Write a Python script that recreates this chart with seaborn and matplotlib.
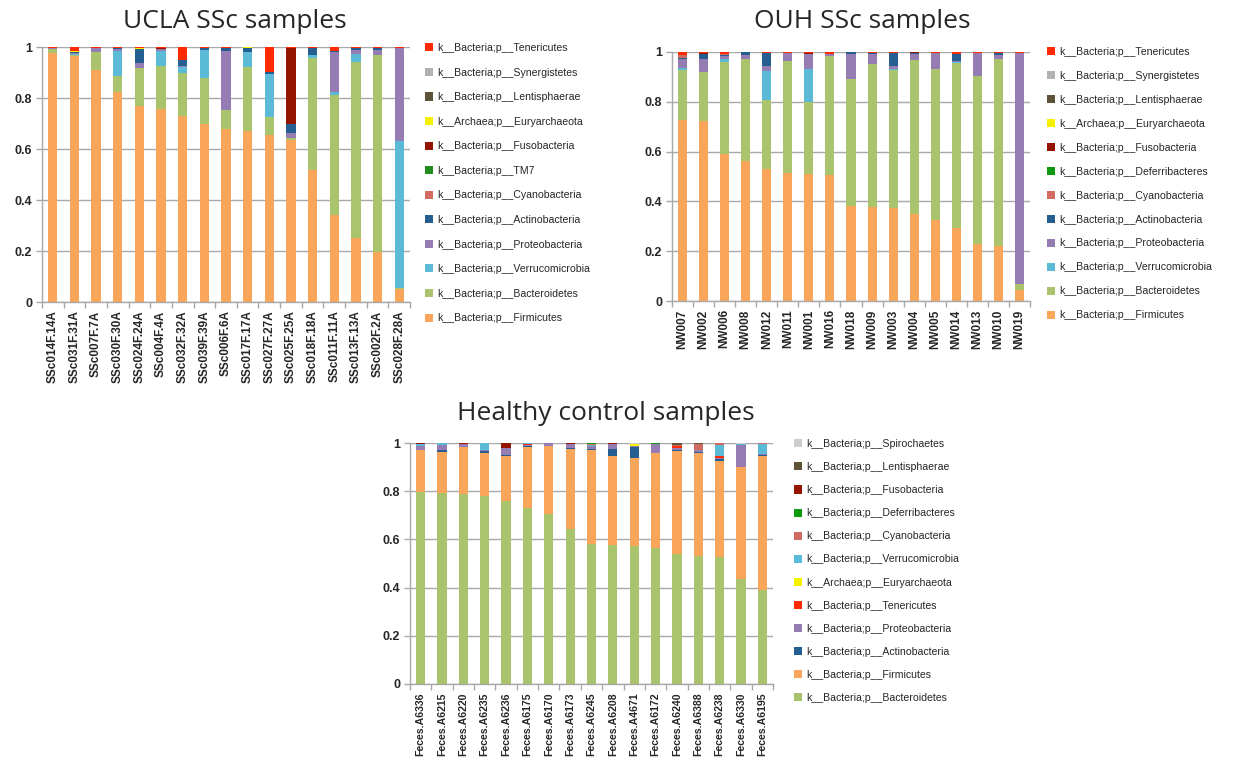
import numpy as np
import pandas as pd
import seaborn as sns
import matplotlib
matplotlib.use("Agg")
import matplotlib.pyplot as plt
from matplotlib.patches import Patch

# ---------------- data ----------------
ucla_samples = ["SSc014F.14A", "SSc031F.31A", "SSc007F.7A", "SSc030F.30A", "SSc024F.24A",
                "SSc004F.4A", "SSc032F.32A", "SSc039F.39A", "SSc006F.6A", "SSc017F.17A",
                "SSc027F.27A", "SSc025F.25A", "SSc018F.18A", "SSc011F.11A", "SSc013F.13A",
                "SSc002F.2A", "SSc028F.28A"]
ucla_firmicutes = [0.975, 0.965, 0.910, 0.825, 0.770, 0.755, 0.730, 0.697, 0.680, 0.672, 0.655, 0.637, 0.518, 0.340, 0.250, 0.198, 0.052]
ucla_bacteroidetes = [0.018, 0.004, 0.072, 0.063, 0.148, 0.172, 0.170, 0.183, 0.073, 0.250, 0.072, 0.007, 0.440, 0.470, 0.693, 0.772, 0.003]
ucla_verrucomicrobia = [0.000, 0.005, 0.000, 0.098, 0.000, 0.058, 0.020, 0.110, 0.000, 0.058, 0.168, 0.000, 0.012, 0.015, 0.030, 0.000, 0.578]
ucla_proteobacteria = [0.002, 0.004, 0.013, 0.006, 0.018, 0.008, 0.005, 0.000, 0.232, 0.000, 0.000, 0.020, 0.000, 0.155, 0.015, 0.018, 0.362]
ucla_actinobacteria = [0.000, 0.002, 0.000, 0.003, 0.058, 0.000, 0.025, 0.007, 0.010, 0.017, 0.007, 0.034, 0.025, 0.005, 0.009, 0.009, 0.000]
ucla_cyanobacteria = [0.0] * 17
ucla_tm7 = [0.0] * 17
ucla_fusobacteria = [0.000, 0.000, 0.000, 0.002, 0.000, 0.005, 0.000, 0.000, 0.000, 0.000, 0.000, 0.297, 0.000, 0.000, 0.000, 0.000, 0.000]
ucla_euryarchaeota = [0.000, 0.005, 0.000, 0.000, 0.003, 0.000, 0.000, 0.000, 0.000, 0.003, 0.000, 0.000, 0.002, 0.000, 0.000, 0.000, 0.000]
ucla_lentisphaerae = [0.0] * 17
ucla_synergistetes = [0.0] * 17
ucla_tenericutes = [0.005, 0.015, 0.005, 0.003, 0.003, 0.002, 0.050, 0.003, 0.005, 0.000, 0.098, 0.005, 0.003, 0.015, 0.003, 0.003, 0.005]

ouh_samples = ["NW007", "NW002", "NW006", "NW008", "NW012", "NW011", "NW001", "NW016", "NW018",
               "NW009", "NW003", "NW004", "NW005", "NW014", "NW013", "NW010", "NW019"]
ouh_firmicutes = [0.727, 0.722, 0.590, 0.564, 0.529, 0.513, 0.510, 0.505, 0.383, 0.378, 0.373, 0.348, 0.324, 0.295, 0.230, 0.221, 0.045]
ouh_bacteroidetes = [0.202, 0.199, 0.368, 0.407, 0.277, 0.451, 0.289, 0.478, 0.507, 0.574, 0.556, 0.619, 0.608, 0.661, 0.672, 0.750, 0.022]
ouh_verrucomicrobia = [0.008, 0.000, 0.014, 0.000, 0.116, 0.000, 0.134, 0.000, 0.000, 0.000, 0.004, 0.000, 0.000, 0.002, 0.000, 0.000, 0.000]
ouh_proteobacteria = [0.036, 0.052, 0.012, 0.017, 0.020, 0.033, 0.060, 0.008, 0.101, 0.041, 0.012, 0.025, 0.065, 0.004, 0.094, 0.016, 0.930]
ouh_actinobacteria = [0.004, 0.020, 0.003, 0.010, 0.055, 0.000, 0.000, 0.002, 0.007, 0.003, 0.052, 0.005, 0.000, 0.028, 0.000, 0.009, 0.000]
ouh_cyanobacteria = [0.010, 0.000, 0.003, 0.000, 0.000, 0.000, 0.000, 0.000, 0.000, 0.000, 0.000, 0.000, 0.000, 0.000, 0.000, 0.000, 0.000]
ouh_deferribacteres = [0.0] * 17
ouh_fusobacteria = [0.000, 0.003, 0.000, 0.000, 0.000, 0.000, 0.004, 0.000, 0.000, 0.000, 0.000, 0.003, 0.000, 0.000, 0.000, 0.000, 0.000]
ouh_euryarchaeota = [0.000, 0.000, 0.003, 0.000, 0.000, 0.000, 0.000, 0.000, 0.000, 0.000, 0.000, 0.000, 0.000, 0.000, 0.000, 0.000, 0.000]
ouh_lentisphaerae = [0.0] * 17
ouh_synergistetes = [0.0] * 17
ouh_tenericutes = [0.013, 0.004, 0.007, 0.002, 0.003, 0.003, 0.003, 0.007, 0.002, 0.004, 0.003, 0.000, 0.003, 0.010, 0.004, 0.004, 0.003]

hc_samples = ["Feces.A6336", "Feces.A6215", "Feces.A6220", "Feces.A6235", "Feces.A6236", "Feces.A6175",
              "Feces.A6170", "Feces.A6173", "Feces.A6245", "Feces.A6208", "Feces.A4671", "Feces.A6172",
              "Feces.A6240", "Feces.A6388", "Feces.A6238", "Feces.A6330", "Feces.A6195"]
hc_bacteroidetes = [0.798, 0.794, 0.787, 0.781, 0.759, 0.732, 0.706, 0.642, 0.582, 0.577, 0.573, 0.565, 0.540, 0.531, 0.526, 0.434, 0.389]
hc_firmicutes = [0.171, 0.167, 0.195, 0.176, 0.189, 0.250, 0.280, 0.333, 0.390, 0.371, 0.366, 0.392, 0.427, 0.429, 0.401, 0.468, 0.555]
hc_actinobacteria = [0.003, 0.011, 0.000, 0.009, 0.004, 0.006, 0.000, 0.003, 0.004, 0.027, 0.046, 0.002, 0.004, 0.003, 0.005, 0.000, 0.005]
hc_proteobacteria = [0.015, 0.021, 0.012, 0.003, 0.027, 0.003, 0.012, 0.019, 0.010, 0.022, 0.003, 0.035, 0.007, 0.010, 0.007, 0.091, 0.007]
hc_tenericutes = [0.002, 0.000, 0.000, 0.000, 0.000, 0.003, 0.000, 0.000, 0.000, 0.000, 0.000, 0.000, 0.010, 0.000, 0.006, 0.000, 0.000]
hc_euryarchaeota = [0.000, 0.000, 0.000, 0.000, 0.000, 0.000, 0.000, 0.000, 0.000, 0.000, 0.006, 0.000, 0.000, 0.000, 0.000, 0.000, 0.000]
hc_verrucomicrobia = [0.007, 0.007, 0.000, 0.031, 0.000, 0.004, 0.000, 0.000, 0.006, 0.000, 0.002, 0.002, 0.000, 0.000, 0.047, 0.004, 0.039]
hc_cyanobacteria = [0.000, 0.000, 0.000, 0.000, 0.000, 0.000, 0.000, 0.000, 0.003, 0.000, 0.000, 0.000, 0.005, 0.023, 0.006, 0.000, 0.005]
hc_deferribacteres = [0.000, 0.000, 0.000, 0.000, 0.000, 0.000, 0.000, 0.000, 0.003, 0.000, 0.000, 0.004, 0.000, 0.000, 0.000, 0.000, 0.000]
hc_fusobacteria = [0.004, 0.000, 0.006, 0.000, 0.019, 0.000, 0.002, 0.003, 0.000, 0.003, 0.000, 0.000, 0.000, 0.000, 0.000, 0.000, 0.000]
hc_lentisphaerae = [0.000, 0.000, 0.000, 0.000, 0.002, 0.000, 0.000, 0.000, 0.002, 0.000, 0.000, 0.000, 0.005, 0.004, 0.000, 0.000, 0.000]
hc_spirochaetes = [0.000, 0.000, 0.000, 0.000, 0.000, 0.002, 0.000, 0.000, 0.000, 0.000, 0.004, 0.000, 0.002, 0.000, 0.002, 0.003, 0.000]

# stacking order: bottom -> top
ucla_stack = [("Firmicutes", ucla_firmicutes), ("Bacteroidetes", ucla_bacteroidetes),
              ("Verrucomicrobia", ucla_verrucomicrobia), ("Proteobacteria", ucla_proteobacteria),
              ("Actinobacteria", ucla_actinobacteria), ("Cyanobacteria", ucla_cyanobacteria),
              ("TM7", ucla_tm7), ("Fusobacteria", ucla_fusobacteria),
              ("Euryarchaeota", ucla_euryarchaeota), ("Lentisphaerae", ucla_lentisphaerae),
              ("Synergistetes", ucla_synergistetes), ("Tenericutes", ucla_tenericutes)]
ouh_stack = [("Firmicutes", ouh_firmicutes), ("Bacteroidetes", ouh_bacteroidetes),
             ("Verrucomicrobia", ouh_verrucomicrobia), ("Proteobacteria", ouh_proteobacteria),
             ("Actinobacteria", ouh_actinobacteria), ("Cyanobacteria", ouh_cyanobacteria),
             ("Deferribacteres", ouh_deferribacteres), ("Fusobacteria", ouh_fusobacteria),
             ("Euryarchaeota", ouh_euryarchaeota), ("Lentisphaerae", ouh_lentisphaerae),
             ("Synergistetes", ouh_synergistetes), ("Tenericutes", ouh_tenericutes)]
hc_stack = [("Bacteroidetes", hc_bacteroidetes), ("Firmicutes", hc_firmicutes),
            ("Actinobacteria", hc_actinobacteria), ("Proteobacteria", hc_proteobacteria),
            ("Tenericutes", hc_tenericutes), ("Euryarchaeota", hc_euryarchaeota),
            ("Verrucomicrobia", hc_verrucomicrobia), ("Cyanobacteria", hc_cyanobacteria),
            ("Deferribacteres", hc_deferribacteres), ("Fusobacteria", hc_fusobacteria),
            ("Lentisphaerae", hc_lentisphaerae), ("Spirochaetes", hc_spirochaetes)]

colors = {
    "Firmicutes": "#F9A65A", "Bacteroidetes": "#A9C46C", "Verrucomicrobia": "#5BBAD5",
    "Proteobacteria": "#957CB2", "Actinobacteria": "#255E91", "Cyanobacteria": "#D06B64",
    "TM7": "#1E8C1E", "Deferribacteres": "#0E9A0E", "Fusobacteria": "#931500",
    "Euryarchaeota": "#F5F200", "Lentisphaerae": "#5E5338", "Synergistetes": "#B2B2B2",
    "Tenericutes": "#FF2A00", "Spirochaetes": "#CCCCCC",
}


def label_for(p):
    kingdom = "Archaea" if p == "Euryarchaeota" else "Bacteria"
    return f"k__{kingdom};p__{p}"


sns.set_theme(style="white")
plt.rcParams["font.family"] = ["Liberation Sans", "DejaVu Sans"]

W, H = 1247, 761
fig = plt.figure(figsize=(W / 100, H / 100), dpi=100)


def draw(rect, title, title_xy, samples, stack, legend_anchor, label_spacing, xfs):
    ax = fig.add_axes(rect)
    cum = np.cumsum(np.array([v for _, v in stack]), axis=0)
    df = pd.DataFrame({"sample": samples})
    # draw from top layer down so that lower layers overlay
    for i in range(len(stack) - 1, -1, -1):
        name = stack[i][0]
        df["y"] = cum[i]
        sns.barplot(data=df, x="sample", y="y", order=samples, color=colors[name],
                    saturation=1, width=0.43, errorbar=None, edgecolor="none",
                    linewidth=0, ax=ax)
    ax.set_ylim(0, 1)
    ax.set_xlim(-0.5, len(samples) - 0.5)
    ax.set_xlabel("")
    ax.set_ylabel("")
    ax.set_yticks([0, 0.2, 0.4, 0.6, 0.8, 1.0])
    ax.set_yticklabels(["0", "0.2", "0.4", "0.6", "0.8", "1"], fontweight="bold", fontsize=9)
    ax.yaxis.grid(True, color="#A8A8A8", linewidth=1)
    ax.set_axisbelow(True)
    ax.tick_params(axis="y", length=4, color="#A8A8A8", width=1, pad=3, left=True)
    ax.set_xticks(range(len(samples)))
    ax.set_xticklabels(samples, rotation=90, fontweight="bold", fontsize=xfs)
    ax.tick_params(axis="x", length=0, pad=6)
    ax.set_xticks(np.arange(len(samples) + 1) - 0.5, minor=True)
    ax.tick_params(axis="x", which="minor", length=4, color="#A8A8A8", width=1, bottom=True)
    for s in ["top", "right"]:
        ax.spines[s].set_visible(False)
    for s in ["left", "bottom"]:
        ax.spines[s].set_color("#A8A8A8")
        ax.spines[s].set_linewidth(1)
    fig.text(title_xy[0] / W, 1 - title_xy[1] / H, title, fontsize=19, ha="center", va="center",
             family=["Open Sans", "DejaVu Sans"])
    handles = [Patch(facecolor=colors[n], edgecolor="none", label=label_for(n))
               for n, _ in reversed(stack)]
    fig.legend(handles=handles, loc="upper left", bbox_to_anchor=legend_anchor,
               frameon=False, fontsize=7.6, handlelength=0.8, handleheight=0.8,
               handletextpad=0.35, labelspacing=label_spacing, borderaxespad=0, borderpad=0)
    return ax


draw([42 / W, 1 - 302 / H, 368 / W, 255 / H], "UCLA SSc samples", (235, 21),
     ucla_samples, ucla_stack, (425 / W, 1 - 43 / H), 1.38, 8.5)
draw([672 / W, 1 - 301 / H, 358 / W, 249 / H], "OUH SSc samples", (862, 21),
     ouh_samples, ouh_stack, (1047 / W, 1 - 47 / H), 1.32, 8.5)
draw([410 / W, 1 - 684 / H, 363 / W, 241 / H], "Healthy control samples", (606, 414),
     hc_samples, hc_stack, (794 / W, 1 - 439 / H), 1.24, 7.6)

fig.savefig("out.png", dpi=100, facecolor="white")
